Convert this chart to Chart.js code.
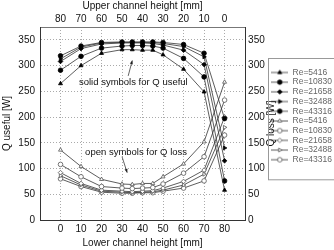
<!DOCTYPE html>
<html>
<head>
<meta charset="utf-8">
<script src="https://cdn.jsdelivr.net/npm/chart.js@4.4.0/dist/chart.umd.min.js"></script>
<style>
  html, body { margin: 0; padding: 0; background: #fff; }
  #wrap { width: 334px; height: 250px; }
</style>
</head>
<body>
<div id="wrap"><canvas id="chart"></canvas></div>
<script>
// lower channel height [mm]
var lowerHeight = [0, 10, 20, 30, 35, 40, 45, 50, 60, 70, 80];
var reLabels = ['Re=5416', 'Re=10830', 'Re=21658', 'Re=32488', 'Re=43316'];

// Q useful [W] (solid symbols)
var qUseful5416  = [265, 300, 324, 331, 331, 330, 330, 321, 293, 249, 58];
var qUseful10830 = [291, 318, 334, 338, 339, 339, 338, 334, 314, 278, 76];
var qUseful21658 = [308, 333, 342, 344, 344, 344, 343, 340, 330, 302, 115];
var qUseful32488 = [313, 336, 344, 345, 345, 345, 345, 343, 337, 317, 140];
var qUseful43316 = [319, 338, 345, 346, 346, 346, 346, 345, 341, 324, 197];

// Q loss [W] (open symbols)
var qLoss5416  = [136, 104, 79, 70, 69, 71, 71, 84, 109, 152, 268];
var qLoss10830 = [108, 84, 65, 62, 61, 62, 63, 70, 91, 123, 233];
var qLoss21658 = [92, 71, 58, 56, 55, 56, 57, 62, 75, 97, 200];
var qLoss32488 = [86, 68, 56, 54, 53, 54, 55, 58, 68, 89, 180];
var qLoss43316 = [80, 65, 54, 52, 52, 53, 53, 56, 62, 76, 165];

var yTicks = [0, 50, 100, 150, 200, 250, 300, 350];
var xTicks = [0, 10, 20, 30, 40, 50, 60, 70, 80];

var FONT = "'Liberation Sans', Arial, sans-serif";
var lineColor = '#333';
var R = 2.3;

var markerStyles = [
  { style: 'triangle', rot: 0 },
  { style: 'circle', rot: 0 },
  { style: 'rectRot', rot: 0 },
  { style: 'triangle', rot: 90 },
  { style: 'circle', rot: 0 }
];

function pts(arr) {
  return lowerHeight.map(function(x, i) { return { x: x, y: arr[i] }; });
}

function makeSet(label, arr, idx, filled, axis) {
  var m = markerStyles[idx];
  return {
    label: label,
    data: pts(arr),
    yAxisID: axis,
    borderColor: lineColor,
    borderWidth: 0.8,
    backgroundColor: filled ? '#000' : '#fff',
    pointBorderColor: filled ? '#000' : '#555',
    pointBorderWidth: 0.8,
    pointStyle: m.style,
    pointRotation: m.rot,
    pointRadius: R,
    fill: false,
    tension: 0,
    _filled: filled,
    _idx: idx
  };
}

// small legend icon: line + marker
function makeIcon(idx, filled) {
  var c = document.createElement('canvas');
  c.width = 17; c.height = 8;
  var ctx = c.getContext('2d');
  ctx.strokeStyle = lineColor;
  ctx.lineWidth = 0.8;
  ctx.beginPath(); ctx.moveTo(0, 4); ctx.lineTo(17, 4); ctx.stroke();
  var m = markerStyles[idx];
  ctx.fillStyle = filled ? '#000' : '#fff';
  ctx.strokeStyle = filled ? '#000' : '#555';
  Chart.helpers.drawPoint(ctx, {
    pointStyle: m.style, rotation: m.rot, radius: R, borderWidth: 0.8
  }, 8.5, 4);
  return c;
}

var datasets = [
  makeSet(reLabels[0], qUseful5416, 0, true, 'y'),
  makeSet(reLabels[1], qUseful10830, 1, true, 'y'),
  makeSet(reLabels[2], qUseful21658, 2, true, 'y'),
  makeSet(reLabels[3], qUseful32488, 3, true, 'y'),
  makeSet(reLabels[4], qUseful43316, 4, true, 'y'),
  makeSet(reLabels[0], qLoss5416, 0, false, 'yR'),
  makeSet(reLabels[1], qLoss10830, 1, false, 'yR'),
  makeSet(reLabels[2], qLoss21658, 2, false, 'yR'),
  makeSet(reLabels[3], qLoss32488, 3, false, 'yR'),
  makeSet(reLabels[4], qLoss43316, 4, false, 'yR')
];

function keepTicks(list) {
  return function(axis) {
    axis.ticks = list.map(function(v) { return { value: v }; });
  };
}
function fixWidth(w) { return function(s) { s.width = w; }; }
function fixHeight(h) { return function(s) { s.height = h; }; }

var extras = {
  id: 'extras',
  afterDraw: function(chart) {
    var ctx = chart.ctx;
    var xs = chart.scales.x, ys = chart.scales.y, yr = chart.scales.yR;
    ctx.save();
    // right axis title, reading bottom to top
    ctx.font = '10px ' + FONT;
    ctx.fillStyle = '#111';
    ctx.textAlign = 'center';
    ctx.textBaseline = 'middle';
    ctx.translate(yr.left + 26, (yr.top + yr.bottom) / 2);
    ctx.rotate(-Math.PI / 2);
    ctx.fillText('Q loss [W]', 0, 0);
    ctx.restore();

    // notes
    ctx.save();
    ctx.font = '9.5px ' + FONT;
    ctx.fillStyle = '#111';
    ctx.textBaseline = 'middle';
    ctx.fillText('solid symbols for Q useful', xs.getPixelForValue(9), ys.getPixelForValue(267));
    ctx.fillText('open symbols for Q loss', xs.getPixelForValue(12), ys.getPixelForValue(132));
    function arrow(x1, y1, x2, y2) {
      var a = xs.getPixelForValue(x1), b = ys.getPixelForValue(y1);
      var c = xs.getPixelForValue(x2), d = ys.getPixelForValue(y2);
      ctx.strokeStyle = '#222'; ctx.fillStyle = '#222'; ctx.lineWidth = 0.7;
      ctx.beginPath(); ctx.moveTo(a, b); ctx.lineTo(c, d); ctx.stroke();
      var ang = Math.atan2(d - b, c - a);
      ctx.beginPath();
      ctx.moveTo(c, d);
      ctx.lineTo(c - 4 * Math.cos(ang - 0.4), d - 4 * Math.sin(ang - 0.4));
      ctx.lineTo(c - 4 * Math.cos(ang + 0.4), d - 4 * Math.sin(ang + 0.4));
      ctx.closePath(); ctx.fill();
    }
    arrow(33, 280, 35, 310);
    arrow(30, 123, 32.5, 92);
    ctx.restore();

    // legend frame
    var lg = chart.legend;
    if (lg && lg.legendHitBoxes && lg.legendHitBoxes.length) {
      var hb = lg.legendHitBoxes;
      var first = hb[0].top + hb[0].height / 2;
      var last = hb[hb.length - 1].top + hb[hb.length - 1].height / 2;
      var left = hb[0].left - 3;
      ctx.save();
      ctx.strokeStyle = '#999';
      ctx.lineWidth = 1;
      ctx.strokeRect(Math.round(left) + 0.5, Math.round(first - 14) + 0.5,
                     chart.width + 10 - left, last - first + 34);
      ctx.restore();
    }
  }
};

new Chart(document.getElementById('chart'), {
  type: 'line',
  data: { datasets: datasets },
  options: {
    responsive: true,
    maintainAspectRatio: false,
    animation: false,
    layout: { padding: { top: 0, left: 0, right: -8, bottom: 0 } },
    plugins: {
      tooltip: { enabled: false },
      legend: {
        position: 'right',
        align: 'start',
        maxWidth: 100,
        title: { display: true, text: ' ', font: { size: 10 }, padding: { top: 27, bottom: 28 } },
        labels: {
          usePointStyle: true,
          pointStyleWidth: 17,
          padding: 1.2,
          color: '#222',
          font: { family: FONT, size: 8.5 },
          generateLabels: function(chart) {
            return chart.data.datasets.map(function(ds, i) {
              return {
                text: ds.label,
                pointStyle: makeIcon(ds._idx, ds._filled),
                fillStyle: ds.backgroundColor,
                strokeStyle: ds.borderColor,
                lineWidth: 0,
                hidden: false,
                datasetIndex: i
              };
            });
          }
        }
      }
    },
    scales: {
      x: {
        type: 'linear', position: 'bottom', min: -10, max: 90,
        afterBuildTicks: keepTicks(xTicks),
        afterFit: fixHeight(30),
        grid: { color: '#aaa', drawTicks: false },
        border: { color: '#333', dash: [1, 2] },
        ticks: { color: '#111', padding: 3, font: { family: FONT, size: 10 } },
        title: { display: true, text: 'Lower channel height [mm]', color: '#111',
                 font: { family: FONT, size: 10 }, padding: { top: 1, bottom: 1 } }
      },
      xTop: {
        type: 'linear', position: 'top', min: -10, max: 90,
        afterBuildTicks: keepTicks(xTicks),
        afterFit: fixHeight(27),
        grid: { display: false, drawTicks: false },
        border: { color: '#777' },
        ticks: { color: '#111', padding: 2, font: { family: FONT, size: 10 },
                 callback: function(v) { return 80 - v; } },
        title: { display: true, text: 'Upper channel height [mm]', color: '#111',
                 font: { family: FONT, size: 10 }, padding: { top: 0, bottom: 1 } }
      },
      y: {
        type: 'linear', position: 'left', min: 0, max: 375,
        afterBuildTicks: keepTicks(yTicks),
        afterFit: fixWidth(40),
        grid: { color: '#aaa', drawTicks: false },
        border: { color: '#333', dash: [1, 2] },
        ticks: { color: '#111', padding: 5, font: { family: FONT, size: 10 } },
        title: { display: true, text: 'Q useful [W]', color: '#111',
                 font: { family: FONT, size: 10 }, padding: { top: 1, bottom: 0 } }
      },
      yR: {
        type: 'linear', position: 'right', min: 0, max: 375,
        afterBuildTicks: keepTicks(yTicks),
        afterFit: fixWidth(25),
        grid: { display: false, drawTicks: false },
        border: { color: '#333' },
        ticks: { color: '#111', padding: 3, font: { family: FONT, size: 10 } },
        title: { display: false }
      }
    }
  },
  plugins: [extras]
});
</script>
</body>
</html>
